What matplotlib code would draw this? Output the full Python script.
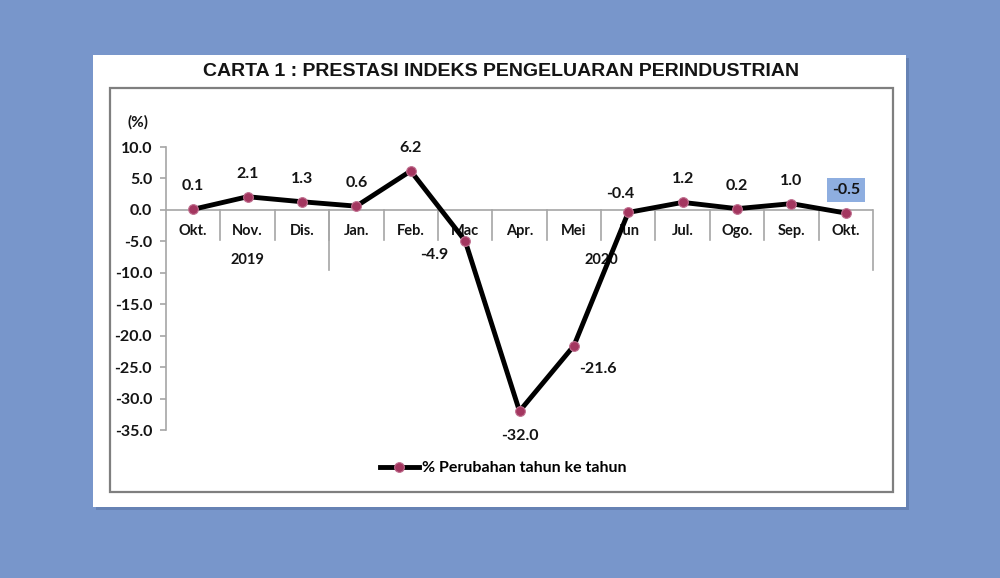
import matplotlib.pyplot as plt
from matplotlib.patches import Rectangle

months = ["Okt.", "Nov.", "Dis.", "Jan.", "Feb.", "Mac", "Apr.", "Mei",
          "Jun", "Jul.", "Ogo.", "Sep.", "Okt."]
years = ["2019", "2020"]
year_counts = [3, 10]
values = [0.1, 2.1, 1.3, 0.6, 6.2, -4.9, -32.0, -21.6, -0.4, 1.2, 0.2, 1.0, -0.5]
series_name = "% Perubahan tahun ke tahun"
title = "CARTA 1 : PRESTASI INDEKS PENGELUARAN PERINDUSTRIAN"

BG = "#7896cb"
GRID = "#a6a6a6"
MARKER = "#a3365f"
FONT = "Lato"
TXT = "#141414"

fig = plt.figure(figsize=(10, 5.78), dpi=100)
fig.patch.set_facecolor(BG)

# card with a soft shadow
fig.patches.append(Rectangle((0.096, 0.118), 0.813, 0.782, transform=fig.transFigure,
                             facecolor="#56709f", alpha=0.5, edgecolor="none", zorder=0))
fig.patches.append(Rectangle((0.093, 0.123), 0.813, 0.782, transform=fig.transFigure,
                             facecolor="white", edgecolor="none", zorder=1))
fig.patches.append(Rectangle((0.110, 0.149), 0.783, 0.699, transform=fig.transFigure,
                             facecolor="white", edgecolor="#7f7f7f", linewidth=1.6, zorder=2))

fig.text(0.501, 0.876, title, ha="center", va="center", fontsize=14,
         fontweight="bold", family="Liberation Sans", color=TXT, zorder=3)

ax = fig.add_axes([0.166, 0.256, 0.707, 0.4896], zorder=4)
ax.set_facecolor("none")
x = list(range(len(values)))

ax.set_xlim(-0.5, len(values) - 0.5)
ax.set_ylim(-35, 10)
ax.set_yticks(range(-35, 11, 5))
ax.set_yticklabels([f"{v:.1f}" for v in range(-35, 11, 5)])
ax.set_xticks([])
for s in ["top", "right", "bottom"]:
    ax.spines[s].set_visible(False)
ax.spines["left"].set_color(GRID)
ax.spines["left"].set_linewidth(1.2)
ax.tick_params(axis="y", direction="out", length=4, width=1.2, color=GRID, pad=6,
               labelsize=11.5, labelcolor=TXT)
for lab in ax.get_yticklabels():
    lab.set_fontweight("bold")
    lab.set_family(FONT)

ax.text(-0.82, 14.0, "(%)", ha="right", va="center", fontsize=11, fontweight="bold",
        family=FONT, color=TXT, clip_on=False)

# category axis at zero
ax.axhline(0, color=GRID, linewidth=1.2, zorder=1)
for b in range(1, len(values)):
    ax.plot([b - 0.5, b - 0.5], [0, -4.8], color=GRID, linewidth=1.2, clip_on=False, zorder=1)
edges = [0]
for c in year_counts:
    edges.append(edges[-1] + c)
for e in edges[1:]:
    ax.plot([e - 0.5, e - 0.5], [0, -9.6], color=GRID, linewidth=1.2, clip_on=False, zorder=1)
for i, m in enumerate(months):
    ax.text(i, -3.4, m, ha="center", va="center", fontsize=10.5, fontweight="bold",
            family=FONT, color=TXT, zorder=2)
for yr, a, b in zip(years, edges[:-1], edges[1:]):
    ax.text((a + b - 1) / 2, -8.0, yr, ha="center", va="center", fontsize=10.5,
            fontweight="bold", family=FONT, color=TXT, zorder=2)

ax.plot(x, values, color="black", linewidth=3.5, marker="o", markersize=7,
        markerfacecolor=MARKER, markeredgecolor="#c07090", markeredgewidth=0.8,
        label=series_name, zorder=5, clip_on=False)

# data labels
offsets = {5: (-22, -10), 6: (0, -18), 7: (17, -17), 8: (-6, 13)}
for i, v in enumerate(values):
    dx, dy = offsets.get(i, (0, 16.5))
    box = None
    if i == len(values) - 1:
        box = dict(boxstyle="square,pad=0.3", facecolor="#8eaee0", edgecolor="none")
    ax.annotate(f"{v:.1f}", (i, v), xytext=(dx, dy), textcoords="offset points",
                ha="center", va="center", fontsize=11.5, fontweight="bold",
                family=FONT, color=TXT, bbox=box, zorder=6)

leg = ax.legend(loc="center", bbox_to_anchor=(0.477, -0.135), frameon=False,
                prop={"family": FONT, "weight": "bold", "size": 11.5},
                handlelength=2.4, handletextpad=0.2)

fig.savefig("out.png", dpi=100, facecolor=fig.get_facecolor())
